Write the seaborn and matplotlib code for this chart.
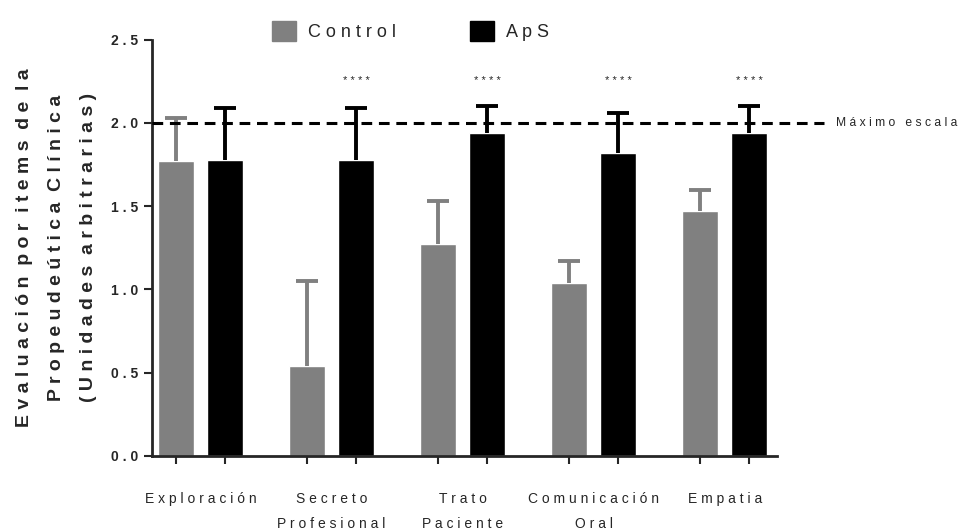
import pandas as pd
import matplotlib
matplotlib.use("Agg")
import matplotlib.pyplot as plt
import seaborn as sns
from matplotlib.patches import Patch

# data
items = ["Exploración", "Secreto\nProfesional", "Trato\nPaciente", "Comunicación\nOral", "Empatia"]
groups = ["Control", "ApS"]
control_mean = [1.77, 0.54, 1.27, 1.04, 1.47]
control_sem = [0.26, 0.51, 0.26, 0.13, 0.13]
aps_mean = [1.78, 1.78, 1.94, 1.82, 1.94]
aps_sem = [0.31, 0.31, 0.16, 0.24, 0.16]
signif = ["", "****", "****", "****", "****"]
max_scale = 2.0
yticks = [0.0, 0.5, 1.0, 1.5, 2.0, 2.5]


def spaced(s, word_gap="  "):
    # fake letter tracking like the original figure
    return "\n".join(word_gap.join(" ".join(w) for w in line.split(" ")) for line in s.split("\n"))


sns.set_style("ticks")
plt.rcParams["font.family"] = ["Liberation Sans", "DejaVu Sans"]

df = pd.DataFrame({
    "item": items * 2,
    "grupo": [groups[0]] * 5 + [groups[1]] * 5,
    "valor": control_mean + aps_mean,
    "err": control_sem + aps_sem,
})

colors = {"Control": "#808080", "ApS": "#000000"}

fig = plt.figure(figsize=(9.66, 5.30), dpi=100)
ax = fig.add_axes([0.157, 0.140, 0.647, 0.785])

sns.barplot(data=df, x="item", y="valor", hue="grupo", hue_order=groups,
            palette=colors, width=0.756, gap=0.27, errorbar=None,
            saturation=1, legend=False, ax=ax)

# upper error bars from the bar positions
centers = []
for cont, g in zip(ax.containers, groups):
    sub = df[df["grupo"] == g]
    xs = [p.get_x() + p.get_width() / 2 for p in cont.patches]
    centers += xs
    eb = ax.errorbar(xs, sub["valor"], yerr=[[0] * 5, list(sub["err"])], fmt="none",
                     ecolor=colors[g], elinewidth=2.8, capsize=8, capthick=2.8, zorder=3)
    eb[1][0].set_visible(False)  # no lower cap

for i, s in enumerate(signif):
    if s:
        ax.text(i + 0.189, 2.25, spaced(s), ha="center", va="center", fontsize=8)

xmin, xmax = -0.374, 4.397
ax.plot([xmin, 4.76], [max_scale, max_scale], ls=(0, (3.5, 2.2)), color="black",
        lw=2.2, clip_on=False, zorder=4)
ax.text(4.85, max_scale, spaced("Máximo escala", "   "), ha="left", va="center", fontsize=8.7)

ax.set_xlim(xmin, xmax)
ax.set_ylim(0, 2.5)
ax.set_yticks(yticks)
ax.set_yticklabels([spaced(f"{v:.1f}") for v in yticks], fontweight="bold", fontsize=10)

ax.set_xticks(sorted(centers), labels=[""] * len(centers))
ax.set_xticks(range(5), labels=[spaced(t) for t in items], minor=True)
ax.tick_params(axis="x", which="minor", length=0, pad=26, labelsize=10)
ax.tick_params(axis="both", which="major", width=1.5, length=6, direction="out")
for lab in ax.get_xticklabels(minor=True):
    lab.set_linespacing(2.0)
    lab.set_va("top")

ax.set_xlabel("")
ax.set_ylabel(spaced("Evaluación por items de la\nPropeudeútica Clínica\n(Unidades arbitrarias)"),
              fontsize=14, fontweight="bold", labelpad=10)
ax.yaxis.label.set_linespacing(2.15)

sns.despine(ax=ax)
for sp in ["left", "bottom"]:
    ax.spines[sp].set_linewidth(2)

handles = [Patch(facecolor=colors[g], edgecolor=colors[g]) for g in groups]
ax.legend(handles, [spaced(g) for g in groups], ncol=2, loc="center",
          bbox_to_anchor=(0.414, 1.021), frameon=False, fontsize=13,
          handlelength=1.35, handleheight=1.3, handletextpad=0.65, columnspacing=4.1)

fig.savefig("out.png", dpi=100)
